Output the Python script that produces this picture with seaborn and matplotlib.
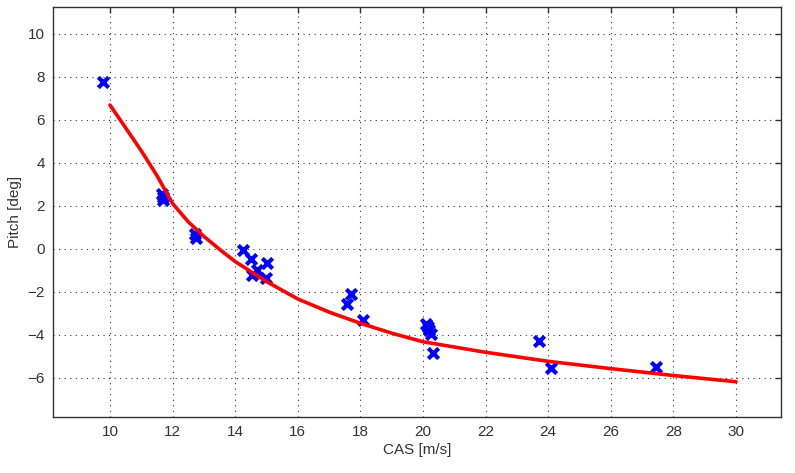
import numpy as np
import pandas as pd
import matplotlib
matplotlib.use('Agg')
import matplotlib.pyplot as plt
import seaborn as sns

# measured points
cas_meas = [9.78, 11.66, 11.68, 11.70, 12.72, 12.74, 14.26, 14.50, 14.53, 14.70,
            15.02, 14.98, 17.56, 17.69, 18.07, 20.10, 20.15, 20.20, 20.25, 20.31,
            23.70, 24.08, 27.44]
pitch_meas = [7.75, 2.55, 2.40, 2.28, 0.70, 0.50, -0.08, -0.48, -1.22, -0.99,
              -0.68, -1.38, -2.59, -2.10, -3.32, -3.50, -3.65, -3.80, -3.95, -4.84,
              -4.30, -5.56, -5.49]

# fitted curve
cas_fit = [10, 10.5, 11, 11.5, 12, 12.5, 13, 13.5, 14, 15, 16, 17, 18, 19, 20,
           22, 24, 26, 28, 30]
pitch_fit = [6.68, 5.62, 4.55, 3.40, 2.10, 1.25, 0.57, -0.03, -0.60, -1.53, -2.34,
             -2.95, -3.47, -3.93, -4.33, -4.82, -5.24, -5.58, -5.90, -6.19]

x_ticks = list(range(10, 31, 2))
y_ticks = list(range(-6, 11, 2))

sns.set_style('white')
plt.rcParams['font.family'] = ['Liberation Sans', 'DejaVu Sans']

df_meas = pd.DataFrame({'cas': cas_meas, 'pitch': pitch_meas})
df_fit = pd.DataFrame({'cas': cas_fit, 'pitch': pitch_fit})

fig = plt.figure(figsize=(7.95, 4.73), dpi=100)
ax = fig.add_axes([0.0667, 0.1184, 0.9157, 0.8668])

sns.scatterplot(data=df_meas, x='cas', y='pitch', marker='x', s=55,
                color='#0000ff', linewidth=3, ax=ax, zorder=3)
sns.lineplot(data=df_fit, x='cas', y='pitch', color='#ff0000', linewidth=2.6,
             ax=ax, zorder=4)

ax.set_xlim(8.18, 31.44)
ax.set_ylim(-7.83, 11.24)
ax.set_xticks(x_ticks)
ax.set_yticks(y_ticks)
ax.grid(True, color='#333333', linestyle=(0, (1, 4)), linewidth=0.8)
ax.tick_params(direction='in', length=4, width=1, top=True, right=True,
               labelsize=11, colors='#333333', pad=6)
for sp in ax.spines.values():
    sp.set_color('#333333')
    sp.set_linewidth(1)
ax.set_xlabel('CAS [m/s]', fontsize=11, color='#333333', labelpad=3)
ax.set_ylabel('Pitch [deg]', fontsize=11, color='#333333', labelpad=4)

fig.savefig('out.png', dpi=100)
